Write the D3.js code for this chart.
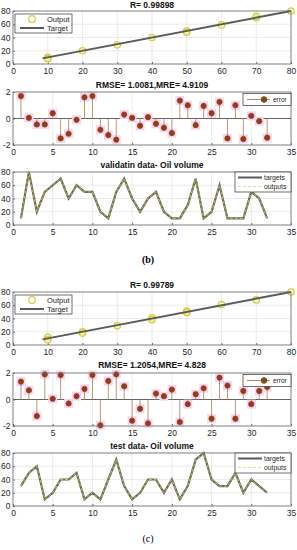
<!DOCTYPE html>
<html>
<head>
<meta charset="utf-8">
<script src="https://cdn.jsdelivr.net/npm/d3@7"></script>
<style>
  body { margin: 0; background: #fff; }
  svg { display: block; font-family: "Liberation Sans", Arial, sans-serif; }
</style>
</head>
<body>
<svg id="chart" width="297" height="550"></svg>
<script>
// --- data ---
const valScatterX = [10, 10, 20, 30, 40, 50, 50, 60, 70, 70, 80];
const valScatterY = [10, 8, 20, 29, 40, 50, 48, 59, 70, 72, 80];
const valFit = [[8.5, 8.5], [80, 80]];
const valError = [1.7, 0.05, -0.45, -0.45, 0.4, -1.5, -1.15, -0.1, 1.6, 1.7, -0.85, -1.25, -1.6, 0.3, 0.05, -0.55,
                  0.1, -0.4, -0.7, -1.1, 1.35, 1.0, -0.5, 0.95, 0.4, 1.25, -1.5, 1.0, -1.55, 0.2, -0.2, -1.45];
const valTargets = [10, 80, 20, 50, 60, 70, 40, 60, 50, 50, 20, 10, 50, 70, 40, 20,
                    40, 50, 20, 10, 10, 30, 70, 10, 20, 60, 10, 10, 10, 50, 40, 10];

const testScatterX = [10, 10, 20, 20, 30, 40, 40, 50, 50, 60, 70, 80];
const testScatterY = [12, 8, 20, 18, 29, 41, 38, 51, 49, 61, 68, 80];
const testFit = [[8.5, 8.5], [80, 80]];
const testError = [1.35, 0.7, -1.25, 1.9, 0.05, 1.85, -0.3, 0.25, 0.8, 1.85, -1.95, 1.4, 1.9, 1.0, -1.6, -0.7,
                   -1.8, 0.45, 0.25, 0.75, -1.7, -0.35, 0.4, 0.85, -1.45, 1.65, 1.05, -1.45, 0.65, -0.35, 0.65, 0.95];
const testTargets = [30, 50, 60, 10, 20, 40, 40, 50, 10, 20, 10, 40, 70, 30, 10, 20,
                     40, 40, 20, 40, 10, 30, 70, 80, 40, 30, 30, 50, 20, 40, 30, 20];

const scatterTicksX = d3.range(0, 81, 10);
const lineTicksY = [0, 20, 40, 60, 80];
const indexTicksX = d3.range(0, 36, 5);
const errorTicksY = [-2, 0, 2];

const svg = d3.select("#chart");
const L = 13, R = 291;
const GRID = "#e3e3e3", BOX = "#6e6e6e", TXT = "#262626";

function frame(top, bottom, x, y, xt, yt, title, titleY) {
  const g = svg.append("g");
  g.selectAll(".gx").data(xt).enter().append("line")
    .attr("x1", d => x(d)).attr("x2", d => x(d)).attr("y1", top).attr("y2", bottom)
    .attr("stroke", GRID).attr("stroke-width", 0.7);
  g.selectAll(".gy").data(yt).enter().append("line")
    .attr("x1", L).attr("x2", R).attr("y1", d => y(d)).attr("y2", d => y(d))
    .attr("stroke", GRID).attr("stroke-width", 0.7);

  const ax = svg.append("g").attr("transform", `translate(0,${bottom})`)
    .call(d3.axisBottom(x).tickValues(xt).tickSize(-2).tickPadding(4));
  const ay = svg.append("g").attr("transform", `translate(${L},0)`)
    .call(d3.axisLeft(y).tickValues(yt).tickSize(-2).tickPadding(2.5).tickFormat(d => String(d)));
  [ax, ay].forEach(a => {
    a.select(".domain").remove();
    a.selectAll(".tick line").attr("stroke", BOX);
    a.selectAll("text").attr("fill", TXT).style("font-size", "8.5px");
  });

  if (title) {
    svg.append("text").attr("x", (L + R) / 2).attr("y", titleY)
      .attr("text-anchor", "middle").attr("fill", "#111")
      .style("font-size", "8.5px").style("font-weight", "bold").text(title);
  }
  return g;
}

function box(top, bottom) {
  svg.append("rect").attr("x", L).attr("y", top).attr("width", R - L).attr("height", bottom - top)
    .attr("fill", "none").attr("stroke", BOX).attr("stroke-width", 0.8);
}

function scatterPanel(top, bottom, xs, ys, fit, title, titleY) {
  const x = d3.scaleLinear().domain([0, 80]).range([L, R]);
  const y = d3.scaleLinear().domain([0, 80]).range([bottom, top]);
  frame(top, bottom, x, y, scatterTicksX, lineTicksY, title, titleY);
  svg.append("g").selectAll("circle").data(xs).enter().append("circle")
    .attr("cx", d => x(d)).attr("cy", (d, i) => y(ys[i])).attr("r", 3.2)
    .attr("fill", "#f3f0c0").attr("fill-opacity", 0.6)
    .attr("stroke", "#d8cf3c").attr("stroke-width", 1.3);
  svg.append("path").datum(fit)
    .attr("d", d3.line().x(d => x(d[0])).y(d => y(d[1])))
    .attr("stroke", "#5a5a5a").attr("stroke-width", 2).attr("fill", "none");
  box(top, bottom);
  // legend
  const lg = svg.append("g");
  lg.append("rect").attr("x", 15).attr("y", top + 3).attr("width", 57).attr("height", 19)
    .attr("fill", "#fff").attr("stroke", "#333").attr("stroke-width", 0.7);
  lg.append("circle").attr("cx", 32).attr("cy", top + 8).attr("r", 3.3)
    .attr("fill", "none").attr("stroke", "#d8cf3c").attr("stroke-width", 1.2);
  lg.append("line").attr("x1", 20).attr("x2", 44).attr("y1", top + 17).attr("y2", top + 17)
    .attr("stroke", "#5a5a5a").attr("stroke-width", 2);
  lg.append("text").attr("x", 47).attr("y", top + 10.5).text("Output").style("font-size", "7.5px").attr("fill", TXT);
  lg.append("text").attr("x", 47).attr("y", top + 19.5).text("Target").style("font-size", "7.5px").attr("fill", TXT);
}

function errorPanel(top, bottom, errs, title, titleY) {
  const x = d3.scaleLinear().domain([0, 35]).range([L, R]);
  const y = d3.scaleLinear().domain([-2, 2]).range([bottom, top]);
  frame(top, bottom, x, y, indexTicksX, errorTicksY, title, titleY);
  const idx = errs.map((e, i) => i + 1);
  svg.append("line").attr("x1", L).attr("x2", R).attr("y1", y(0)).attr("y2", y(0))
    .attr("stroke", "#555").attr("stroke-width", 0.9);
  const g = svg.append("g");
  g.selectAll(".halo").data(idx).enter().append("rect")
    .attr("x", d => x(d) - 4.5).attr("y", (d, i) => y(errs[i]) - 4.5)
    .attr("width", 9).attr("height", 9).attr("fill", "#fbd2ee");
  g.selectAll(".stem").data(idx).enter().append("line")
    .attr("x1", d => x(d)).attr("x2", d => x(d))
    .attr("y1", y(0)).attr("y2", (d, i) => y(errs[i]))
    .attr("stroke", "#b98a6a").attr("stroke-width", 0.9);
  g.selectAll(".mk").data(idx).enter().append("circle")
    .attr("cx", d => x(d)).attr("cy", (d, i) => y(errs[i])).attr("r", 2.6)
    .attr("fill", "#a8301c").attr("stroke", "#6b5418").attr("stroke-width", 0.9);
  box(top, bottom);
  const lg = svg.append("g");
  lg.append("rect").attr("x", 243).attr("y", top + 1.5).attr("width", 48).attr("height", 12)
    .attr("fill", "#fff").attr("stroke", "#333").attr("stroke-width", 0.7);
  lg.append("line").attr("x1", 247).attr("x2", 270).attr("y1", top + 7.5).attr("y2", top + 7.5)
    .attr("stroke", "#b98a6a").attr("stroke-width", 1);
  lg.append("circle").attr("cx", 264).attr("cy", top + 7.5).attr("r", 2.8)
    .attr("fill", "#8a4a14").attr("stroke", "#6b5418");
  lg.append("text").attr("x", 273).attr("y", top + 10).text("error").style("font-size", "6.5px").attr("fill", TXT);
}

function linePanel(top, bottom, vals, title, titleY) {
  const x = d3.scaleLinear().domain([0, 35]).range([L, R]);
  const y = d3.scaleLinear().domain([0, 80]).range([bottom, top]);
  frame(top, bottom, x, y, indexTicksX, lineTicksY, title, titleY);
  const line = d3.line().x((d, i) => x(i + 1)).y(d => y(d));
  svg.append("path").datum(vals).attr("d", line)
    .attr("fill", "none").attr("stroke", "#6a6a58").attr("stroke-width", 2.2);
  svg.append("path").datum(vals).attr("d", line)
    .attr("fill", "none").attr("stroke", "#d6d25a").attr("stroke-width", 0.8)
    .attr("stroke-dasharray", "3,2");
  box(top, bottom);
  const lg = svg.append("g");
  lg.append("rect").attr("x", 235).attr("y", top).attr("width", 56).attr("height", 20)
    .attr("fill", "#fff").attr("stroke", "#333").attr("stroke-width", 0.7);
  lg.append("line").attr("x1", 238).attr("x2", 262).attr("y1", top + 5.5).attr("y2", top + 5.5)
    .attr("stroke", "#5a5a5a").attr("stroke-width", 2);
  lg.append("line").attr("x1", 238).attr("x2", 262).attr("y1", top + 14.5).attr("y2", top + 14.5)
    .attr("stroke", "#e0dc90").attr("stroke-width", 1.2).attr("stroke-dasharray", "3,2");
  lg.append("text").attr("x", 264).attr("y", top + 8).text("targets").style("font-size", "6.8px").attr("fill", TXT);
  lg.append("text").attr("x", 264).attr("y", top + 17).text("outputs").style("font-size", "6.8px").attr("fill", TXT);
}

scatterPanel(11, 64, valScatterX, valScatterY, valFit, "R= 0.99898", 8);
errorPanel(92, 145, valError, "RMSE= 1.0081,MRE= 4.9109", 88);
linePanel(172, 225, valTargets, "validatin data- Oil volume", 168);
svg.append("text").attr("x", 148).attr("y", 263).attr("text-anchor", "middle")
  .style("font-family", "'Liberation Serif', 'Times New Roman', serif").style("font-weight", "bold")
  .style("font-size", "10px").text("(b)");

scatterPanel(292, 345, testScatterX, testScatterY, testFit, "R= 0.99789", 288);
errorPanel(373, 426, testError, "RMSE= 1.2054,MRE= 4.828", 368);
linePanel(453, 506, testTargets, "test data- Oil volume", 449);
svg.append("text").attr("x", 148).attr("y", 542).attr("text-anchor", "middle")
  .style("font-family", "'Liberation Serif', 'Times New Roman', serif")
  .style("font-size", "10px").text("(c)");
</script>
</body>
</html>
